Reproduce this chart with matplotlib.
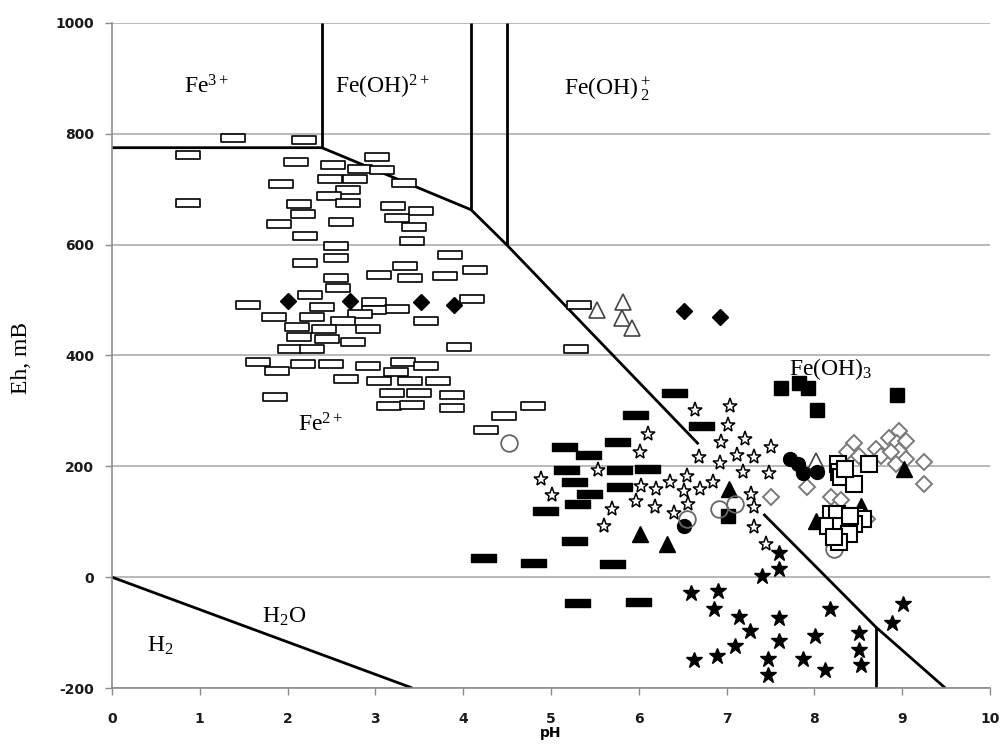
import numpy as np
import matplotlib
matplotlib.use("Agg")
import matplotlib.pyplot as plt
from matplotlib.path import Path

plt.rcParams['mathtext.fontset'] = 'custom'
plt.rcParams['mathtext.rm'] = 'Liberation Serif'
plt.rcParams['mathtext.it'] = 'Liberation Serif:italic'
plt.rcParams['axes.unicode_minus'] = False

# --- data (pH, Eh mV) ---
open_rect_ph = [1.38, 2.19, 0.87, 3.02, 2.09, 2.52, 2.83, 3.07, 2.48, 2.77, 3.33, 1.92, 2.69, 2.47,
                2.69, 0.87, 2.13, 3.20, 3.52, 2.17, 3.25, 2.61, 1.90, 3.44, 2.20, 3.42, 2.55, 2.55,
                3.85, 2.20, 4.14, 3.34, 3.04, 3.39, 3.79, 2.55, 2.57, 2.26, 1.55, 4.10, 2.98, 2.39,
                3.25, 2.98, 1.84, 2.28, 2.83, 2.63, 3.58, 2.11, 2.42, 2.92, 2.13, 2.45, 2.75, 2.03,
                2.28, 3.95, 1.66, 1.88, 2.17, 2.49, 2.92, 3.31, 3.58, 3.23, 2.67, 3.04, 3.39, 3.71,
                1.86, 3.19, 3.50, 3.87, 3.16, 3.42, 3.87, 5.32, 5.28, 4.80, 4.47, 4.26]
open_rect_eh = [792, 789, 762, 759, 749, 743, 736, 735, 718, 718, 712, 710, 698, 688,
                676, 676, 673, 670, 661, 655, 649, 640, 637, 631, 616, 607, 597, 576,
                582, 567, 555, 561, 546, 540, 543, 540, 522, 509, 491, 502, 496, 488,
                484, 482, 469, 469, 475, 463, 463, 451, 448, 448, 433, 430, 424, 412,
                412, 415, 388, 372, 384, 384, 381, 388, 381, 370, 357, 354, 354, 354,
                326, 332, 332, 329, 308, 311, 305, 491, 412, 308, 290, 266]

fill_diam_ph = [2.01, 2.71, 3.52, 3.90, 6.51, 6.92]
fill_diam_eh = [499, 498, 497, 491, 481, 469]

open_tri_ph = [5.82, 5.81, 5.92, 5.52, 8.02]
open_tri_eh = [496, 467, 449, 483, 210]

fill_bar_ph = [6.40, 5.96, 6.71, 5.75, 5.15, 5.42, 5.17, 5.78, 6.09, 5.26, 5.77, 5.43, 5.30, 4.93,
               5.26, 4.22, 4.80, 5.69, 5.30, 5.99]
fill_bar_eh = [332, 293, 272, 244, 235, 220, 193, 193, 196, 171, 162, 150, 132, 119,
               65, 34, 25, 23, -47, -45]

open_star_ph = [6.64, 7.04, 7.02, 6.10, 6.94, 7.21, 7.50, 6.01, 6.69, 7.12, 7.31, 6.92, 5.53, 7.19,
                7.48, 6.55, 4.89, 6.36, 6.84, 6.03, 6.20, 6.51, 6.70, 5.01, 7.28, 5.97, 6.56, 6.19,
                7.31, 5.69, 6.40, 5.60, 7.31, 7.45]
open_star_eh = [302, 308, 274, 259, 244, 249, 235, 226, 216, 220, 216, 206, 194, 190,
                188, 183, 178, 171, 172, 165, 159, 156, 159, 149, 150, 138, 132, 126,
                126, 123, 116, 93, 90, 60]

fill_star_ph = [7.60, 7.60, 7.40, 6.60, 6.90, 6.86, 7.14, 7.60, 8.18, 9.01, 8.88, 7.27, 8.01, 8.51,
                7.60, 7.09, 8.51, 6.63, 6.89, 7.47, 7.87, 8.53, 8.12, 7.47]
fill_star_eh = [43, 14, 2, -28, -25, -58, -71, -73, -58, -48, -82, -97, -106, -101,
                -115, -124, -131, -149, -143, -148, -147, -159, -167, -177]

fill_sq_ph = [7.62, 7.83, 7.93, 8.03, 8.94, 7.02]
fill_sq_eh = [341, 351, 341, 301, 329, 111]

open_diam_ph = [8.45, 8.37, 8.51, 8.70, 8.76, 8.85, 8.96, 8.94, 9.04, 8.96, 8.87, 9.04, 8.93, 9.25,
                9.25, 7.92, 8.60, 8.19, 7.51, 8.30]
open_diam_eh = [243, 225, 219, 231, 219, 252, 264, 243, 246, 228, 225, 213, 204, 207,
                168, 162, 105, 144, 144, 140]

fill_tri_ph = [6.01, 6.32, 7.03, 9.02, 8.02, 8.53]
fill_tri_eh = [78, 60, 159, 195, 102, 129]

fill_circ_ph = [7.72, 7.81, 7.87, 8.03, 6.51]
fill_circ_eh = [213, 204, 188, 190, 93]

open_circ_ph = [4.52, 6.91, 7.10, 6.55, 8.22]
open_circ_eh = [243, 123, 132, 105, 50]

open_sq_ph = [8.27, 8.28, 8.30, 8.45, 8.62, 8.35, 8.19, 8.26, 8.47, 8.55, 8.15, 8.30, 8.45, 8.39,
              8.28, 8.22, 8.40]
open_sq_eh = [204, 189, 180, 168, 204, 196, 114, 114, 111, 105, 93, 93, 96, 78,
              63, 72, 110]

# stability field boundaries
bound_lines = [
    ([0, 2.39, 4.09, 4.50, 6.68], [775, 775, 663, 599, 240]),
    ([7.42, 8.70, 9.49], [114, -90, -200]),
    ([2.39, 2.39], [775, 1000]),
    ([4.09, 4.09], [663, 1000]),
    ([4.50, 4.50], [599, 1000]),
    ([8.70, 8.70], [-90, -200]),
    ([0, 3.42], [0, -200]),
]

labels = [
    (0.82, 873, r'Fe$^{3+}$'),
    (2.54, 873, r'Fe(OH)$^{2+}$'),
    (5.15, 869, r'Fe(OH)$\,^{+}_{2}$'),
    (7.71, 365, r'Fe(OH)$_{3}$'),
    (2.12, 262, r'Fe$^{2+}$'),
    (1.71, -82, r'H$_{2}$O'),
    (0.40, -134, r'H$_{2}$'),
]

bar_path = Path([(-1, -0.3), (1, -0.3), (1, 0.3), (-1, 0.3), (-1, -0.3)],
                [Path.MOVETO, Path.LINETO, Path.LINETO, Path.LINETO, Path.CLOSEPOLY])

fig = plt.figure(figsize=(10.03, 7.51), dpi=100)
ax = fig.add_axes([112 / 1003, 63 / 751, 878 / 1003, 665 / 751])

ax.set_xlim(0, 10)
ax.set_ylim(-200, 1000)
ax.set_xticks(range(0, 11))
ax.set_yticks(range(-200, 1001, 200))
ax.grid(axis='y', color='#a6a6a6', lw=1.1, zorder=0)
ax.set_axisbelow(True)
for s in ['top', 'right']:
    ax.spines[s].set_visible(False)
for s in ['left', 'bottom']:
    ax.spines[s].set_color('#8c8c8c')
    ax.spines[s].set_linewidth(1.2)
ax.tick_params(direction='out', length=5, color='#8c8c8c', width=1.0,
               labelsize=10, labelcolor='#1a1a1a', pad=12)
for t in ax.get_xticklabels() + ax.get_yticklabels():
    t.set_fontweight('bold')
ax.tick_params(axis='y', pad=8)

for xs, ys in bound_lines:
    ax.plot(xs, ys, color='black', lw=2.0, zorder=2, solid_capstyle='butt')

def pts(x, y, **kw):
    ax.plot(x, y, ls='none', zorder=3, **kw)

pts(open_rect_ph, open_rect_eh, marker=bar_path, ms=17, mfc='white', mec='black', mew=1.2)
pts(fill_diam_ph, fill_diam_eh, marker='D', ms=8, mfc='black', mec='black')
pts(open_tri_ph, open_tri_eh, marker='^', ms=12, mfc='white', mec='#444444', mew=1.2)
pts(fill_bar_ph, fill_bar_eh, marker=bar_path, ms=18, mfc='black', mec='black', mew=1)
pts(open_star_ph, open_star_eh, marker='*', ms=11, mfc='white', mec='black', mew=1.1)
pts(fill_star_ph, fill_star_eh, marker='*', ms=12, mfc='black', mec='black')
pts(fill_sq_ph, fill_sq_eh, marker='s', ms=10.5, mfc='black', mec='black')
pts(open_diam_ph, open_diam_eh, marker='D', ms=8.5, mfc='white', mec='#7a7a7a', mew=1.4)
pts(fill_tri_ph, fill_tri_eh, marker='^', ms=12, mfc='black', mec='black')
pts(fill_circ_ph, fill_circ_eh, marker='o', ms=10, mfc='black', mec='black')
pts(open_circ_ph, open_circ_eh, marker='o', ms=12, mfc='none', mec='#666666', mew=1.3)
pts(open_sq_ph, open_sq_eh, marker='s', ms=11, mfc='white', mec='black', mew=1.5)

for x, y, s in labels:
    ax.text(x, y, s, fontsize=17, family='Liberation Serif', ha='left', va='baseline', zorder=4)

ax.set_xlabel('pH', fontsize=10, fontweight='bold', labelpad=0)
fig.text(22 / 1003, 1 - 358 / 751, 'Eh, mB', rotation=90, fontsize=17,
         family='Liberation Serif', ha='center', va='center')

fig.savefig('out.png', dpi=100)
